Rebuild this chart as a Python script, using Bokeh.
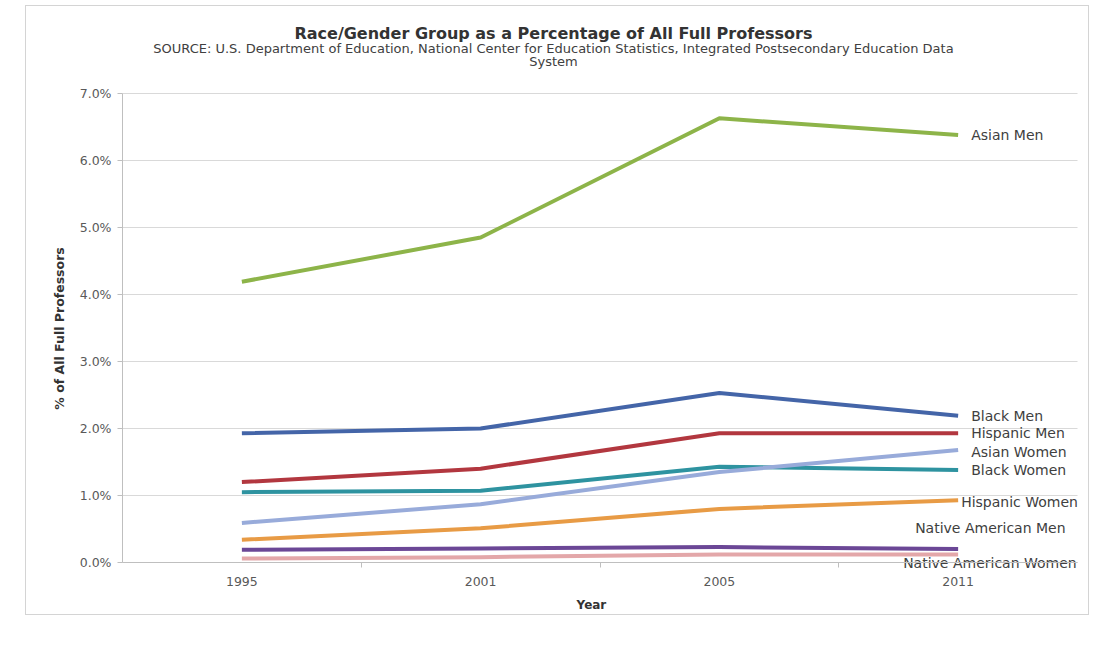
import math
from bokeh.plotting import figure
from bokeh.models import Range1d, FixedTicker, ColumnDataSource
from bokeh.core.properties import value
from bokeh.embed import file_html
from bokeh.resources import INLINE

years = ["1995", "2001", "2005", "2011"]
groups = ["Asian Men", "Black Men", "Hispanic Men", "Asian Women", "Black Women",
          "Hispanic Women", "Native American Men", "Native American Women"]
asian_men = [4.19, 4.85, 6.63, 6.38]
black_men = [1.93, 2.00, 2.53, 2.19]
hispanic_men = [1.20, 1.40, 1.93, 1.93]
asian_women = [0.59, 0.87, 1.35, 1.68]
black_women = [1.05, 1.07, 1.43, 1.38]
hispanic_women = [0.34, 0.51, 0.80, 0.93]
native_american_men = [0.19, 0.21, 0.23, 0.20]
native_american_women = [0.06, 0.08, 0.12, 0.12]
y_ticks = [0, 1, 2, 3, 4, 5, 6, 7]

title = "Race/Gender Group as a Percentage of All Full Professors"
source_1 = "SOURCE: U.S. Department of Education, National Center for Education Statistics, Integrated Postsecondary Education Data"
source_2 = "System"
x_title = "Year"
y_title = "% of All Full Professors"

series = [asian_men, black_men, hispanic_men, asian_women, black_women,
          hispanic_women, native_american_men, native_american_women]
colors = ["#8DB449", "#4465A8", "#B2373F", "#98ABDA", "#2E93A0",
          "#E89B45", "#6B4796", "#E3A7A9"]
# label placement (pixels relative to last point)
label_dx = [13, 13, 13, 13, 13, 3, -43, -55]
label_dy = [0, 0, 0, 2, 0, 2, -21, 9]

FONT = "DejaVu Sans"
TXT = "#404040"

# plot area spans categories -0.5..3.5 (x) and 0..7 % (y); the frame is widened so
# titles/axis titles can be drawn as text inside it
p = figure(width=1064, height=610, output_backend="svg", toolbar_location=None,
           x_range=Range1d(-0.9021, 3.5544), y_range=Range1d(-0.806, 8.2985),
           min_border_left=0, min_border_right=0, min_border_top=0, min_border_bottom=0)
p.margin = (5, 0, 0, 25)
p.styles = {"border": "1px solid #d4d4d4"}
p.outline_line_color = None
p.background_fill_color = "white"
p.border_fill_color = "white"
p.xgrid.grid_line_color = None
p.ygrid.grid_line_color = None

xs = list(range(len(years)))
x_lo, x_hi = xs[0] - 0.5, xs[-1] + 0.5

# horizontal gridlines across the plot area
p.segment(x0=[x_lo] * len(y_ticks), x1=[x_hi] * len(y_ticks), y0=y_ticks, y1=y_ticks,
          line_color="#d9d9d9", line_width=1)

for i in reversed(range(len(series))):
    src = ColumnDataSource(dict(x=xs, y=series[i]))
    p.line("x", "y", source=src, line_color=colors[i], line_width=4, line_join="round")

for i, g in enumerate(groups):
    src = ColumnDataSource(dict(x=[xs[-1]], y=[series[i][-1]], t=[g]))
    p.text("x", "y", text="t", source=src, x_offset=label_dx[i], y_offset=label_dy[i],
           text_font=value(FONT), text_font_size="14px", text_color=TXT,
           text_baseline="middle", text_align="left")

# titles
p.text(x=[1.305], y=[7.8955], text=[title], text_font=value(FONT), text_font_size="16px",
       text_font_style="bold", text_color="#333333", text_align="center", text_baseline="middle")
p.text(x=[1.305, 1.305], y=[7.6716, 7.4776], text=[source_1, source_2], text_font=value(FONT),
       text_font_size="13px", text_color="#404040", text_align="center", text_baseline="middle")
p.text(x=[1.464], y=[-0.627], text=[x_title], text_font=value(FONT), text_font_size="12px",
       text_font_style="bold", text_color="#333333", text_align="center", text_baseline="middle")
p.text(x=[-0.7639], y=[3.4925], text=[y_title], angle=math.pi / 2, text_font=value(FONT),
       text_font_size="12.5px", text_font_style="bold", text_color="#333333",
       text_align="center", text_baseline="middle")

# axes
p.xaxis.fixed_location = 0
p.xaxis.bounds = (x_lo, x_hi)
p.xaxis.ticker = FixedTicker(ticks=xs, minor_ticks=[0.5, 1.5, 2.5])
p.xaxis.major_label_overrides = {i: y for i, y in enumerate(years)}
p.xaxis.major_tick_line_color = None
p.xaxis.minor_tick_line_color = "#bfbfbf"
p.xaxis.minor_tick_out = 5
p.xaxis.minor_tick_in = 0
p.xaxis.axis_line_color = "#bfbfbf"
p.xaxis.major_label_standoff = 9

p.yaxis.fixed_location = x_lo
p.yaxis.ticker = FixedTicker(ticks=y_ticks, minor_ticks=[])
p.yaxis.bounds = (0, 7)
p.yaxis.major_label_overrides = {t: f"{t:.1f}%" for t in y_ticks}
p.yaxis.axis_line_color = "#bfbfbf"
p.yaxis.major_tick_line_color = "#bfbfbf"
p.yaxis.major_tick_out = 5
p.yaxis.major_tick_in = 0
p.yaxis.major_label_standoff = 6

for ax in (p.xaxis, p.yaxis):
    ax.major_label_text_font = FONT
    ax.major_label_text_font_size = "12.5px"
    ax.major_label_text_color = "#595959"

open("out.html", "w").write(file_html(p, INLINE))
